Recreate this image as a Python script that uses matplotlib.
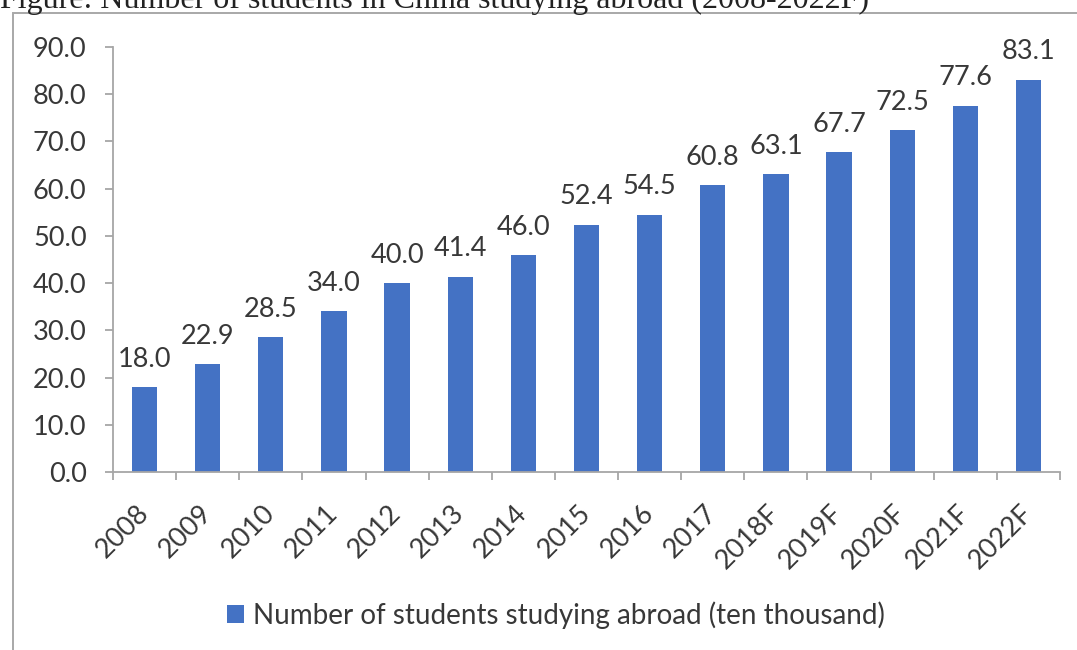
import matplotlib
matplotlib.use("Agg")
import matplotlib.pyplot as plt
from matplotlib.patches import Rectangle
import numpy as np

categories = ["2008", "2009", "2010", "2011", "2012", "2013", "2014", "2015",
              "2016", "2017", "2018F", "2019F", "2020F", "2021F", "2022F"]
values = [18.0, 22.9, 28.5, 34.0, 40.0, 41.4, 46.0, 52.4, 54.5, 60.8,
          63.1, 67.7, 72.5, 77.6, 83.1]
yticks = [0, 10, 20, 30, 40, 50, 60, 70, 80, 90]
series_name = "Number of students studying abroad (ten thousand)"
title = "Figure: Number of students in China studying abroad (2008-2022F)"

W, H = 1077, 650
fig = plt.figure(figsize=(W / 100, H / 100), dpi=100)
font = ["Lato", "DejaVu Sans"]
txtcol = "#383838"
axcol = "#a6a6a6"

# outer frame of the chart
fig.add_artist(Rectangle((13 / W, -0.01), 1.0, 1 - 13 / H + 0.01,
                         transform=fig.transFigure, fill=False,
                         edgecolor="#a8a8a8", linewidth=1.4))
# title is partly cut by the top edge, as in the reference
fig.text(0 / W, 1 - 8 / H, title, family=["Liberation Serif"], fontsize=23,
         va="baseline", ha="left", color="#222222")

ax = fig.add_axes([113 / W, 1 - 472 / H, (1060 - 113) / W, (472 - 47) / H])
x = np.arange(len(categories))
bars = ax.bar(x, values, width=0.4, color="#4472c4", label=series_name, zorder=2)
for xi, v in zip(x, values):
    ax.annotate(f"{v:.1f}", (xi, v), xytext=(0, 14.5), textcoords="offset points",
                ha="center", va="baseline", fontsize=19.5, family=font, color=txtcol)

ax.set_xlim(-0.5, len(categories) - 0.5)
ax.set_ylim(0, 90)
ax.set_yticks(yticks)
ax.set_yticklabels([f"{t:.1f}" for t in yticks], family=font, fontsize=19.5, color=txtcol)
ax.set_xticks(x)
ax.set_xticklabels(categories, rotation=45, ha="right", va="center",
                   rotation_mode="anchor", family=font, fontsize=19.5, color=txtcol)
ax.tick_params(axis="x", length=0, pad=27)
ax.set_xticks(np.arange(-0.5, len(categories), 1), minor=True)
ax.tick_params(axis="x", which="minor", length=6, color=axcol, width=1.3)
ax.tick_params(axis="y", length=6, color=axcol, width=1.3, pad=13)
for s in ["top", "right"]:
    ax.spines[s].set_visible(False)
for s in ["left", "bottom"]:
    ax.spines[s].set_color(axcol)
    ax.spines[s].set_linewidth(1.3)

leg = fig.legend(handles=[bars], labels=[series_name], loc="center",
                 bbox_to_anchor=(556 / W, 1 - 615 / H), frameon=False,
                 prop={"family": "Lato", "size": 20}, handlelength=0.6,
                 handleheight=0.6, handletextpad=0.35, borderpad=0)
for t in leg.get_texts():
    t.set_color(txtcol)

fig.savefig("out.png", dpi=100)
